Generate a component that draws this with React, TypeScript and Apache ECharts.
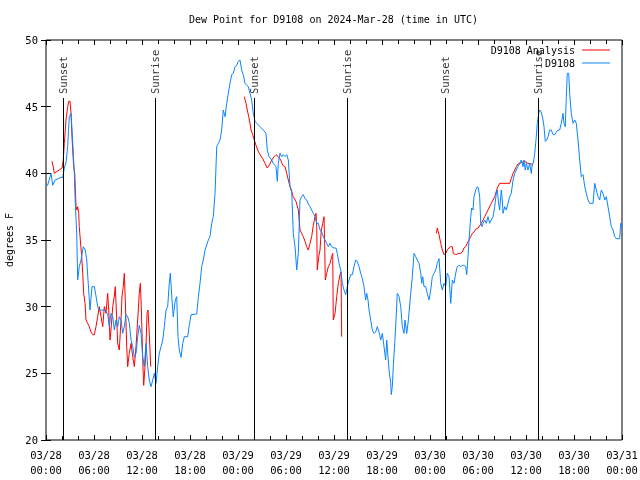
import { useEffect, useRef } from 'react';
import * as echarts from 'echarts';

// hours since 2024-03-28 00:00 UTC, dew point (°F)
const stationObs: [number, number][] = [
  [0, 39.2], [0.2, 39.1], [0.63, 40.0], [0.84, 39.1], [1.13, 39.5], [1.88, 39.7], [2.09, 39.7], [2.29, 40.4],
  [2.5, 40.8], [2.71, 42], [2.91, 44.25], [3.13, 44.5], [3.34, 42.3], [3.54, 40], [3.66, 37.8], [3.84, 35.5],
  [3.96, 32], [4.16, 33], [4.38, 33.5], [4.66, 34.5], [4.91, 34.25], [5.09, 33.5], [5.25, 32], [5.5, 29.75],
  [5.75, 31.5], [6.04, 31.5], [6.25, 30.8], [6.46, 30], [6.66, 29.75], [6.88, 29.75], [7.29, 29.75], [7.5, 29.6],
  [7.71, 29.5], [7.91, 28.5], [8.13, 29.5], [8.34, 29.25], [8.54, 28.25], [8.75, 29], [8.96, 28.5], [9.16, 29.25],
  [9.38, 29], [9.59, 28], [9.79, 28.5], [10.0, 29.4], [10.21, 29.25], [10.41, 28.8], [10.63, 27.5], [10.84, 27],
  [11.04, 26.2], [11.25, 26.5], [11.46, 27.7], [11.66, 28.6], [11.88, 28], [12.09, 26.2], [12.29, 25.5], [12.5, 27.25],
  [12.71, 25.5], [12.91, 24.5], [13.13, 24], [13.34, 24.5], [13.54, 25], [13.75, 24.25], [13.96, 25.5], [14.16, 26.5],
  [14.38, 27], [14.59, 27.5], [14.79, 28.5], [15.0, 29.75], [15.21, 30], [15.41, 31.75], [15.54, 32.5], [15.75, 30.5],
  [15.91, 29.25], [16.16, 30.5], [16.34, 30.75], [16.5, 27.75], [16.66, 26.75], [16.88, 26.2], [17.09, 27.25], [17.29, 27.75],
  [17.71, 27.75], [17.91, 28.6], [18.13, 29.4], [18.84, 29.45], [19.04, 30.7], [19.25, 31.75], [19.46, 33], [19.66, 33.5],
  [19.88, 34.25], [20.29, 35], [20.5, 35.25], [20.71, 36.25], [20.91, 36.75], [21.13, 38.5], [21.34, 42], [21.54, 42.25],
  [21.75, 42.5], [21.96, 43.25], [22.16, 44.75], [22.38, 44.25], [22.59, 45.25], [22.79, 46], [23.0, 46.75], [23.21, 47.4],
  [23.41, 47.5], [23.63, 48], [23.84, 48.1], [24.04, 48.4], [24.25, 48.5], [24.46, 47.75], [24.66, 47.4], [24.88, 46.75],
  [25.09, 46.6], [25.29, 46.5], [25.5, 46], [25.71, 45.5], [25.91, 44.5], [26.13, 43.9], [26.34, 43.75], [26.75, 43.5],
  [27.16, 43.25], [27.5, 43], [27.66, 41.75], [27.88, 41.25], [28.21, 41], [28.41, 40.75], [28.75, 40.5], [28.91, 39.4],
  [29.04, 40.75], [29.25, 41.5], [29.46, 41.25], [29.66, 41.4], [29.88, 41.25], [30.09, 41.4], [30.29, 41], [30.5, 39],
  [30.71, 38.75], [30.91, 35.5], [31.13, 34.5], [31.34, 32.75], [31.54, 34], [31.75, 38], [31.96, 38.25], [32.16, 38.4],
  [32.38, 38.1], [32.59, 38], [32.79, 37.7], [33.0, 37.5], [33.21, 37.25], [33.41, 37], [33.63, 36.75], [33.84, 36.25],
  [34.04, 36.25], [34.25, 35.75], [34.46, 35.6], [34.66, 35.25], [34.88, 35], [35.09, 34.75], [35.29, 34.5], [35.5, 34.75],
  [35.71, 34.5], [36.0, 34.4], [36.25, 34.4], [36.41, 34], [36.63, 33.25], [36.84, 32.75], [37.04, 31.75], [37.25, 31.25],
  [37.46, 30.9], [37.59, 31.25], [37.75, 31.75], [38.09, 32.4], [38.29, 32.4], [38.5, 33], [38.71, 33.5], [38.91, 33.4],
  [39.13, 33], [39.34, 32.5], [39.54, 32.1], [39.75, 31.5], [39.96, 30.5], [40.09, 31], [40.25, 30.5], [40.38, 29.75],
  [40.59, 29], [40.79, 28.25], [41.0, 28], [41.21, 28.1], [41.41, 28.5], [41.63, 28.1], [41.84, 27.5], [42.04, 28],
  [42.25, 27], [42.46, 26], [42.59, 27.5], [42.75, 26.25], [42.88, 25.25], [43.09, 24.25], [43.16, 23.4], [43.29, 24],
  [43.41, 25.5], [43.59, 27.25], [43.75, 29], [43.91, 31], [44.13, 30.75], [44.34, 30], [44.54, 28.5], [44.75, 28],
  [44.88, 29], [45.09, 28], [45.25, 28.75], [45.41, 29.75], [45.59, 31], [45.79, 32.25], [46.0, 34], [46.21, 33.75],
  [46.41, 33.5], [46.63, 33.25], [46.84, 32.5], [46.96, 31.75], [47.09, 32.25], [47.25, 31.5], [47.46, 31.5], [47.66, 31],
  [47.88, 30.5], [48.09, 31.25], [48.29, 32.25], [48.5, 32.5], [48.71, 32.75], [48.91, 33.25], [49.13, 33.6], [49.34, 31.75],
  [49.54, 31.25], [49.75, 31.75], [49.96, 31.5], [50.16, 32.5], [50.38, 32.25], [50.59, 30.25], [50.79, 32], [51.0, 31.75],
  [51.21, 32.5], [51.41, 33], [51.63, 33.1], [51.84, 33], [52.04, 33.1], [52.25, 33.1], [52.46, 33], [52.59, 32.4],
  [52.75, 33.75], [52.88, 35], [53.09, 36.75], [53.21, 37.4], [53.38, 37.25], [53.5, 38.25], [53.71, 38.75], [53.91, 39],
  [54.04, 38.9], [54.21, 38.25], [54.34, 36.25], [54.5, 36], [54.63, 36.25], [54.84, 36.5], [55.04, 36.25], [55.25, 36.75],
  [55.46, 36.25], [55.66, 36.5], [55.88, 36.75], [56.09, 37.5], [56.29, 38.5], [56.41, 38.75], [56.59, 37.7], [56.71, 37.25],
  [56.91, 38.75], [57.04, 38], [57.13, 37], [57.34, 37.5], [57.54, 37.25], [57.75, 37.75], [57.96, 38.25], [58.16, 38.5],
  [58.38, 39.5], [58.59, 40], [58.79, 40.25], [59.0, 40.5], [59.21, 40.75], [59.41, 41], [59.63, 40.5], [59.75, 41],
  [59.91, 40.25], [60.04, 40.75], [60.25, 40.25], [60.46, 40.75], [60.66, 40], [60.79, 40.75], [60.91, 40.75], [61.09, 41.5],
  [61.25, 42.5], [61.41, 43.75], [61.59, 44.5], [61.71, 44.75], [61.91, 44.6], [62.13, 44], [62.25, 43.5], [62.41, 42.4],
  [62.59, 42.5], [62.75, 42.75], [62.96, 43.25], [63.16, 43.25], [63.38, 42.9], [63.59, 42.9], [63.79, 43.1], [64.0, 43.25],
  [64.21, 43.25], [64.41, 43.75], [64.63, 44.5], [64.75, 43.75], [64.91, 43.5], [65.04, 45.75], [65.16, 47.5], [65.34, 47.5],
  [65.46, 46], [65.66, 44.5], [65.88, 43.75], [66.09, 44], [66.29, 43.75], [66.5, 42.5], [66.71, 41], [66.91, 39.75],
  [67.13, 39.9], [67.34, 39], [67.54, 38.5], [67.75, 38], [67.96, 37.75], [68.38, 37.75], [68.59, 39.25], [68.79, 38.75],
  [69.0, 38.25], [69.21, 38], [69.41, 38.75], [69.63, 38.5], [69.84, 38], [70.04, 38.25], [70.25, 37.5], [70.46, 36.75],
  [70.66, 36], [70.88, 35.75], [71.09, 35.25], [71.29, 35.1], [71.71, 35.1], [71.84, 36.25], [72.0, 36],
];

const analysisDay1: [number, number][] = [
  [0.75, 40.9], [0.91, 40.5], [1.04, 40], [1.25, 40.1], [1.66, 40.25], [2.0, 40.4], [2.16, 41], [2.29, 42.25],
  [2.5, 44], [2.71, 45], [2.84, 45.4], [3.0, 45.4], [3.13, 44.5], [3.25, 42.75], [3.34, 41.75], [3.46, 40.5],
  [3.59, 40], [3.66, 39], [3.75, 37.5], [3.88, 37.25], [3.96, 37.5], [4.09, 37], [4.16, 36], [4.29, 35],
  [4.46, 33.75], [4.59, 32.5], [4.71, 31], [4.88, 30.25], [5.0, 29], [5.21, 28.75], [5.41, 28.5], [5.63, 28.1],
  [5.84, 27.9], [6.04, 27.9], [6.25, 28.5], [6.46, 29.25], [6.66, 30], [6.88, 29.25], [7.09, 28.5], [7.29, 30],
  [7.5, 29.5], [7.71, 31], [7.84, 29.75], [8.0, 27.5], [8.16, 28.5], [8.34, 30], [8.54, 30.8], [8.66, 31.5],
  [8.84, 29], [8.96, 27.25], [9.16, 26.75], [9.38, 29], [9.5, 30.8], [9.66, 31.5], [9.79, 32.5], [9.91, 30.5],
  [10.09, 27], [10.21, 25.5], [10.41, 26.5], [10.63, 27.25], [10.84, 26.25], [11.04, 25.5], [11.25, 27], [11.46, 29],
  [11.66, 31], [11.79, 31.75], [11.91, 30], [12.09, 26], [12.21, 24.1], [12.38, 25.5], [12.5, 27], [12.63, 29.5],
  [12.75, 29.75], [12.91, 28], [13.09, 25.5],
];

const analysisDay2: [number, number][] = [
  [24.79, 45.75], [25.0, 45.25], [25.16, 44.75], [25.34, 44.25], [25.5, 43.75], [25.63, 43.25], [25.84, 42.9], [26.04, 42.5],
  [26.25, 42.1], [26.46, 41.75], [26.75, 41.4], [27.09, 41.1], [27.38, 40.75], [27.66, 40.4], [27.91, 40.6], [28.21, 41],
  [28.5, 41.25], [28.75, 41.4], [29.04, 41.25], [29.34, 41], [29.59, 40.6], [29.88, 40.5], [30.09, 40], [30.29, 39.5],
  [30.5, 39], [30.71, 38.6], [30.91, 38.25], [31.25, 37.9], [31.54, 37.25], [31.75, 35.75], [31.96, 35.5], [32.16, 35.25],
  [32.38, 34.9], [32.59, 34.5], [32.79, 34.25], [33.0, 34.75], [33.21, 35.25], [33.41, 36.1], [33.63, 36.75], [33.75, 37],
  [33.84, 36], [33.91, 32.75], [34.09, 33.75], [34.25, 34.25], [34.41, 35.75], [34.59, 36.25], [34.75, 36.75], [34.84, 34.5],
  [34.91, 32], [35.09, 32.5], [35.29, 33], [35.5, 33.25], [35.71, 33.75], [35.84, 34], [35.91, 29], [36.13, 29.5],
  [36.34, 30.75], [36.54, 31.75], [36.75, 32.4], [36.88, 32.6], [36.96, 27.75],
];

const analysisDay3: [number, number][] = [
  [48.79, 35.5], [48.91, 35.9], [49.13, 35.4], [49.34, 34.75], [49.54, 34.25], [49.75, 33.9], [49.96, 34], [50.16, 34.25],
  [50.38, 34.4], [50.59, 34.5], [50.79, 34.5], [50.91, 34], [51.21, 33.9], [51.63, 34], [51.84, 34], [52.04, 34.1],
  [52.25, 34.4], [52.46, 34.5], [52.66, 34.75], [52.88, 35], [53.09, 35.25], [53.29, 35.5], [53.5, 35.6], [53.71, 35.8],
  [54.0, 35.9], [54.41, 36.25], [54.84, 36.75], [55.25, 37.25], [55.66, 37.75], [56.09, 38.25], [56.41, 38.9], [56.71, 39.25],
  [57.96, 39.25], [58.16, 39.6], [58.38, 40], [58.59, 40.25], [58.79, 40.5], [59.0, 40.7], [59.41, 40.8], [59.84, 40.9],
  [60.25, 40.75], [60.66, 40.7], [60.88, 40.6],
];

const eventHours = [2.125, 13.625, 26, 37.625, 49.875, 61.5];
const eventLabels = ['Sunset', 'Sunrise', 'Sunset', 'Sunrise', 'Sunset', 'Sunrise'];
const eventLineTop = 45.65;
const eventLabelAt = 45.95;

const FONT = 'DejaVu Sans Mono';
const RED = '#ff0000';
const BLUE = '#0a84ff';

export default function App() {
  const ref = useRef<HTMLDivElement>(null);
  useEffect(() => {
    const chart = echarts.init(ref.current!, null, { renderer: 'svg' });
    const text = { color: '#000', fontFamily: FONT, fontSize: 10 };
    const fmtX = (v: number) => {
      const day = 28 + Math.floor(v / 24);
      const hh = String(v % 24).padStart(2, '0');
      return `03/${day}\n${hh}:00`;
    };
    const xCommon = {
      type: 'value', min: 0, max: 72, interval: 6,
      axisLine: { show: false },
      splitLine: { show: false },
      axisTick: { show: true, inside: true, length: 5, lineStyle: { color: '#000' } },
      minorTick: { show: true, splitNumber: 3, length: 4, lineStyle: { color: '#000' } },
    };
    const yCommon = {
      type: 'value', min: 20, max: 50, interval: 5,
      axisLine: { show: false },
      splitLine: { show: false },
      axisTick: { show: true, inside: true, length: 5, lineStyle: { color: '#000' } },
    };
    const analysisSeries = [analysisDay1, analysisDay2, analysisDay3].map((d) => ({
      name: 'D9108 Analysis', type: 'line', data: d, symbol: 'none', showSymbol: false,
      lineStyle: { color: RED, width: 1 }, itemStyle: { color: RED }, z: 2,
    }));
    const legendBase = {
      right: 30, align: 'right', itemWidth: 28, itemHeight: 1, itemGap: 0, padding: 0,
      icon: 'rect', textStyle: { ...text, padding: [0, 2, 0, 0] }, selectedMode: false,
    };
    chart.setOption({
      animation: false,
      title: {
        text: 'Dew Point for D9108 on 2024-Mar-28 (time in UTC)',
        left: 184, top: 9,
        textStyle: { ...text, fontWeight: 'normal' },
      },
      legend: [
        { ...legendBase, data: ['D9108 Analysis'], top: 45 },
        { ...legendBase, data: ['D9108'], top: 58 },
      ],
      grid: {
        left: 46, right: 18, top: 40, bottom: 40, show: true, borderColor: '#000', borderWidth: 1,
        backgroundColor: 'transparent', containLabel: false, outerBoundsMode: 'none',
      },
      xAxis: [
        { ...xCommon, position: 'bottom', axisLabel: { ...text, fontSize: 10.5, lineHeight: 15, margin: 7, formatter: fmtX, showMinLabel: true, showMaxLabel: true } },
        { ...xCommon, position: 'top', axisLabel: { show: false } },
      ],
      yAxis: [
        { ...yCommon, position: 'left', name: 'degrees F', nameLocation: 'middle', nameGap: 31, nameRotate: 90, nameTextStyle: text, axisLabel: { ...text, fontSize: 10.5, margin: 8 } },
        { ...yCommon, position: 'right', axisLabel: { show: false } },
      ],
      series: [
        ...analysisSeries,
        {
          name: 'D9108', type: 'line', data: stationObs, symbol: 'none', showSymbol: false,
          lineStyle: { color: BLUE, width: 1 }, itemStyle: { color: BLUE }, z: 3,
        },
        {
          name: 'events', type: 'scatter', symbolSize: 0, silent: true, z: 4,
          data: eventHours.map((h, i) => ({ value: [h, eventLabelAt], name: eventLabels[i] })),
          label: {
            show: true, position: 'inside', rotate: 90, align: 'left', verticalAlign: 'middle',
            formatter: (p: any) => p.name, ...text, fontSize: 10.5,
          },
          markLine: {
            silent: true, symbol: ['none', 'none'], label: { show: false },
            lineStyle: { color: '#000', width: 1, type: 'solid' },
            emphasis: { disabled: true },
            data: eventHours.map((h) => [{ coord: [h, 20] }, { coord: [h, eventLineTop] }]),
          },
        },
      ],
    });
    return () => chart.dispose();
  }, []);
  return <div ref={ref} style={{ position: 'fixed', left: 0, top: 0, width: 640, height: 480 }} />;
}
